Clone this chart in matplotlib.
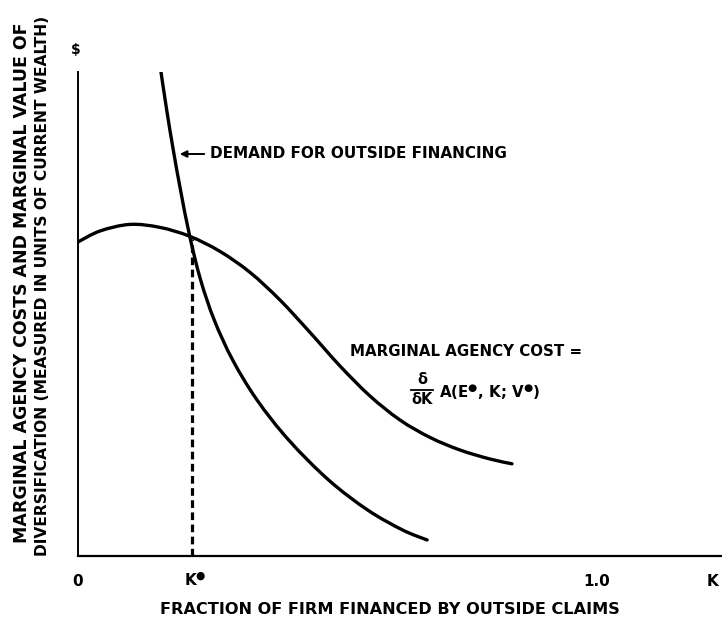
import matplotlib.pyplot as plt
from matplotlib.path import Path
from matplotlib.patches import PathPatch
from matplotlib.lines import Line2D

# demand for outside financing (x = fraction K, y = $ per unit, top of axis = 1)
demand_x = [0.1599, 0.1709, 0.1836, 0.1975, 0.2156, 0.2363, 0.2625, 0.2980, 0.3450,
            0.4059, 0.4829, 0.5581, 0.6255, 0.6727]
demand_y = [1.0000, 0.9215, 0.8388, 0.7562, 0.6591, 0.5702, 0.4876, 0.4050, 0.3223,
            0.2397, 0.1570, 0.0950, 0.0537, 0.0331]

# marginal agency cost curve
mac_x = [0.0, 0.0424, 0.1002, 0.1580, 0.2158, 0.2736, 0.3314, 0.3892, 0.4470, 0.5048,
         0.5626, 0.6204, 0.6782, 0.7360, 0.7938, 0.8362]
mac_y = [0.6488, 0.6715, 0.6851, 0.6789, 0.6603, 0.6293, 0.5860, 0.5289, 0.4620, 0.3926,
         0.3306, 0.2810, 0.2450, 0.2190, 0.2004, 0.1905]

k_star = 0.220
k_star_y = 0.655

W, H = 722, 620


def px(x, y):
    # pixel position -> figure fraction
    return x / W, 1 - y / H


def smooth_path(xs, ys):
    # catmull-rom through the read points, as bezier segments
    pts = list(zip(xs, ys))
    verts = [pts[0]]
    codes = [Path.MOVETO]
    for i in range(len(pts) - 1):
        p0 = pts[i - 1] if i > 0 else pts[i]
        p1 = pts[i]
        p2 = pts[i + 1]
        p3 = pts[i + 2] if i + 2 < len(pts) else pts[i + 1]
        c1 = (p1[0] + (p2[0] - p0[0]) / 6, p1[1] + (p2[1] - p0[1]) / 6)
        c2 = (p2[0] - (p3[0] - p1[0]) / 6, p2[1] - (p3[1] - p1[1]) / 6)
        verts += [c1, c2, p2]
        codes += [Path.CURVE4] * 3
    return Path(verts, codes)


fig = plt.figure(figsize=(W / 100, H / 100), dpi=100)
ax = fig.add_axes([78 / W, 1 - 556 / H, (W - 78) / W, (556 - 72) / H])
ax.set_xlim(0, (W - 78) / 519)
ax.set_ylim(0, 1)
for s in ["top", "right"]:
    ax.spines[s].set_visible(False)
ax.spines["left"].set_linewidth(1.4)
ax.spines["bottom"].set_linewidth(1.6)
ax.set_xticks([])
ax.set_yticks([])

for xs, ys in [(demand_x, demand_y), (mac_x, mac_y)]:
    ax.add_patch(PathPatch(smooth_path(xs, ys), fill=False, ec="black", lw=2.4,
                           capstyle="round", joinstyle="round"))
ax.plot([k_star, k_star], [0, k_star_y], color="black", lw=2.3, dashes=(2.4, 1.4))

bold = dict(fontweight="bold", family="DejaVu Sans", color="black")
star = "$^{\u25cf}$"

fig.text(*px(76, 50), "$", fontsize=10, ha="center", va="center", **bold)
fig.text(*px(78, 582), "0", fontsize=11, ha="center", va="center", **bold)
fig.text(*px(195, 580), "K" + star, fontsize=11, ha="center", va="center", **bold)
fig.text(*px(597, 582), "1.0", fontsize=11, ha="center", va="center", **bold)
fig.text(*px(713, 582), "K", fontsize=11, ha="center", va="center", **bold)
fig.text(*px(390, 609), "FRACTION OF FIRM FINANCED BY OUTSIDE CLAIMS",
         fontsize=11.6, ha="center", va="center", **bold)

fig.text(*px(22, 283), "MARGINAL AGENCY COSTS AND MARGINAL VALUE OF",
         fontsize=12.5, rotation=90, ha="center", va="center", **bold)
fig.text(*px(43, 286), "DIVERSIFICATION (MEASURED IN UNITS OF CURRENT WEALTH)",
         fontsize=11.2, rotation=90, ha="center", va="center", **bold)

ax.annotate("", xy=px(177, 154), xytext=px(207, 154), xycoords="figure fraction",
            textcoords="figure fraction",
            arrowprops=dict(arrowstyle="-|>", color="black", lw=1.4, mutation_scale=10))
fig.text(*px(210, 154), "DEMAND FOR OUTSIDE FINANCING", fontsize=11, ha="left", va="center", **bold)

fig.text(*px(350, 352), "MARGINAL AGENCY COST =", fontsize=10.8, ha="left", va="center", **bold)
# d/dK fraction
fig.text(*px(422, 379), "\u03b4", fontsize=10.5, ha="center", va="center", **bold)
fig.text(*px(422, 400), "\u03b4K", fontsize=10.5, ha="center", va="center", **bold)
fig.add_artist(Line2D([411 / W, 433 / W], [1 - 389.5 / H, 1 - 389.5 / H], color="black", lw=1.3))
fig.text(*px(439, 392), "A(E" + star + ", K; V" + star + ")", fontsize=10.8, ha="left",
         va="center", **bold)

fig.savefig("out.png", dpi=100)
